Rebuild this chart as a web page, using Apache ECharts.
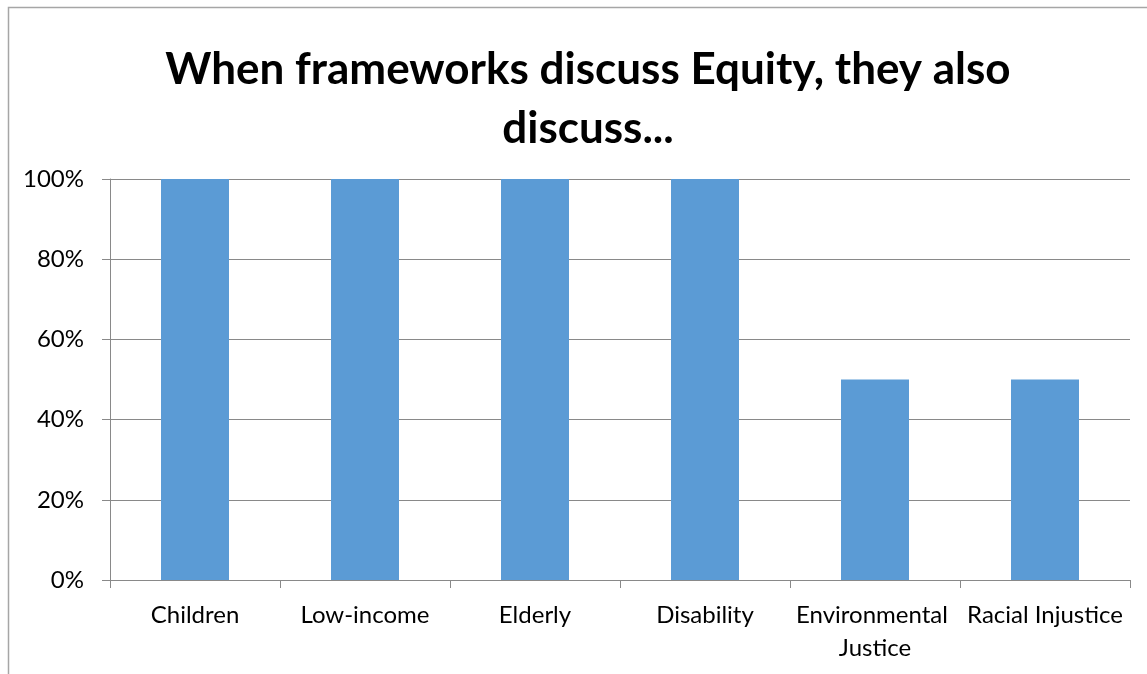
<!DOCTYPE html>
<html>
<head>
<meta charset="utf-8">
<style>
  html, body { margin: 0; padding: 0; background: #fff; }
  #chart { width: 1147px; height: 674px; }
</style>
<script src="https://cdn.jsdelivr.net/npm/echarts@6/dist/echarts.min.js"></script>
</head>
<body>
<div id="chart"></div>
<script>
// Share of frameworks discussing Equity that also discuss each topic
const categories = ['Children', 'Low-income', 'Elderly', 'Disability', 'Environmental Justice', 'Racial Injustice'];
const shares = [1.0, 1.0, 1.0, 1.0, 0.5, 0.5];
const yTicks = [0, 0.2, 0.4, 0.6, 0.8, 1.0];

const FONT = 'Lato';
const GRAY = '#898989';

const chart = echarts.init(document.getElementById('chart'), null, { renderer: 'canvas' });
chart.setOption({
  animation: false,
  backgroundColor: '#ffffff',
  title: {
    text: 'When frameworks discuss Equity, they also\ndiscuss...',
    left: 583,
    top: 35,
    textAlign: 'center',
    textStyle: {
      fontFamily: FONT,
      fontWeight: 'bold',
      fontSize: 44,
      lineHeight: 59,
      color: '#000'
    }
  },
  graphic: [{
    type: 'rect',
    silent: true,
    shape: { x: 8.5, y: 7.5, width: 1200, height: 700 },
    style: { fill: 'none', stroke: '#a6a6a6', lineWidth: 1.5 }
  }],
  grid: { left: 110, right: 17, top: 179, bottom: 94, containLabel: false },
  xAxis: {
    type: 'category',
    data: categories,
    axisLine: { show: true, lineStyle: { color: GRAY, width: 1 } },
    axisTick: { show: true, alignWithLabel: false, interval: 0, length: 8, lineStyle: { color: GRAY } },
    axisLabel: {
      interval: 0,
      margin: 19,
      color: '#000',
      fontFamily: FONT,
      fontSize: 24,
      lineHeight: 33,
      width: 168,
      overflow: 'break'
    },
    splitLine: { show: false }
  },
  yAxis: {
    type: 'value',
    min: 0,
    max: 1,
    interval: 0.2,
    axisLine: { show: true, lineStyle: { color: GRAY, width: 1 } },
    axisTick: { show: true, length: 8, lineStyle: { color: GRAY } },
    axisLabel: {
      margin: 26,
      color: '#000',
      fontFamily: FONT,
      fontSize: 24,
      formatter: v => {
        const hit = yTicks.find(t => Math.abs(t - v) < 1e-9);
        return hit === undefined ? '' : Math.round(hit * 100) + '%';
      }
    },
    splitLine: { show: true, lineStyle: { color: GRAY, width: 1 } }
  },
  series: [{
    type: 'bar',
    data: shares,
    barWidth: '40%',
    itemStyle: { color: '#5b9bd5' }
  }]
});
</script>
</body>
</html>
